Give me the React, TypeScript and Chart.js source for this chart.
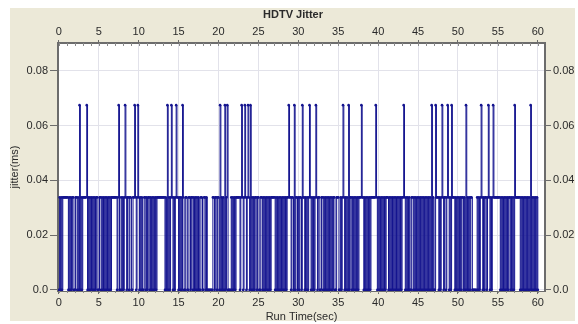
import { useEffect, useRef } from "react";
import { Chart, registerables } from "chart.js";

Chart.register(...registerables);

const chartTitle = "HDTV Jitter";
const xAxisTitle = "Run Time(sec)";
const yAxisTitle = "jitter(ms)";

const sampleStep = 0.1; // seconds between samples
const xMin = -0.1;
const xMax = 60.9;
const xTickStep = 5;
const yMin = -0.0004;
const yMax = 0.0902;
const yTickStep = 0.02;

// jitter levels (ms) addressed by the pattern codes
const jitterLevels = [0, 0.0338];
const spikeLevel = 0.0675;

// one string per second, 10 samples each (code 0 -> 0 ms, 1 -> 0.0338 ms)
const jitterPattern = [
  "0101011111", "1101010110", "0110101010", "1111110101", "0101010110",
  "0110101010", "1010101111", "1110110010", "1010101101", "1001101010",
  "1010100110", "1011010101", "0101111111", "1110101010", "1010101111",
  "0101011001", "1001101101", "0101010011", "0011010000", "0001101101",
  "1010101010", "1100001010", "1011111010", "1010101010", "1010101101",
  "1001101010", "1010101111", "1010101010", "1010101101", "1011010110",
  "1011001101", "0101010101", "0101011001", "1010101010", "1010110011",
  "1001010101", "0101011010", "1010101111", "1101010101", "0111111010",
  "1010101010", "1110101010", "1010101010", "1101010101", "0011010101",
  "0101010101", "0101010101", "0011110101", "0101101010", "1011110101",
  "0101011010", "1010101100", "0000101010", "1010110101", "0101011111",
  "1110101010", "1010110101", "0111111101", "0101010101", "0101010101",
  "0",
];

// times (sec) where jitter jumps to the 0.0675 ms level
const spikeTimes = [
  2.6, 3.5, 7.5, 8.3, 9.5, 9.9, 13.6, 14.1, 14.7, 15.5,
  20.2, 20.8, 21.1, 22.9, 23.3, 23.7, 24.0, 28.8, 29.5, 30.5,
  31.4, 32.2, 35.6, 36.3, 37.9, 39.7, 43.2, 46.7, 47.2, 48.0,
  48.7, 49.2, 51.0, 52.9, 53.8, 54.4, 57.1, 59.1,
];

const FONT = "'Liberation Sans', Arial, sans-serif";
const TEXT = "#2a2a2a";
const LINE = "#14148f";
const GRID = "#e2e2ea";
const AXIS = "#6c6c6c";

function buildPoints() {
  const codes = jitterPattern.join("");
  const pts = codes.split("").map((c, i) => ({
    x: Math.round(i * sampleStep * 10) / 10,
    y: jitterLevels[Number(c)],
  }));
  spikeTimes.forEach((t) => {
    const i = Math.round(t / sampleStep);
    if (pts[i]) pts[i].y = spikeLevel;
  });
  return pts;
}

const backgroundPlugin = {
  id: "bgPanel",
  beforeDraw(chart: any) {
    const { ctx, chartArea } = chart;
    ctx.save();
    ctx.fillStyle = "#ffffff";
    ctx.fillRect(0, 0, chart.width, chart.height);
    ctx.fillStyle = "#ECE9D8";
    ctx.fillRect(10, 8, 565, 313);
    ctx.fillStyle = "#ffffff";
    ctx.fillRect(chartArea.left, chartArea.top, chartArea.right - chartArea.left, chartArea.bottom - chartArea.top);
    ctx.restore();
  },
};

const minorTickPlugin = {
  id: "minorTicks",
  afterDraw(chart: any) {
    const { ctx, chartArea } = chart;
    const xs = chart.scales.x;
    ctx.save();
    ctx.strokeStyle = "#8a8a8a";
    ctx.lineWidth = 1;
    for (let t = 0; t <= 60; t += 1) {
      const px = Math.round(xs.getPixelForValue(t)) + 0.5;
      ctx.beginPath();
      ctx.moveTo(px, chartArea.top);
      ctx.lineTo(px, chartArea.top + 3);
      ctx.moveTo(px, chartArea.bottom);
      ctx.lineTo(px, chartArea.bottom + 2);
      ctx.stroke();
    }
    ctx.restore();
  },
};

export default function App() {
  const ref = useRef<HTMLCanvasElement | null>(null);

  useEffect(() => {
    if (!ref.current) return;
    const font = { family: FONT, size: 11 };
    const yLabel = (v: any) => (Number(v) === 0 ? "0.0" : Number(v).toFixed(2));
    const chart = new Chart(ref.current, {
      type: "line",
      data: {
        datasets: [
          {
            data: buildPoints(),
            borderColor: LINE,
            borderWidth: 1,
            stepped: true,
            pointRadius: 1.3,
            pointBackgroundColor: LINE,
            pointBorderWidth: 0,
            fill: false,
          },
        ],
      },
      options: {
        animation: false,
        responsive: false,
        layout: { padding: { left: 8, top: 0, right: 0, bottom: 0 } },
        plugins: {
          legend: { display: false },
          tooltip: { enabled: false },
          title: {
            display: true,
            text: chartTitle,
            color: TEXT,
            font: { family: FONT, size: 11, weight: "bold" },
            padding: { top: 8, bottom: 4 },
          },
        },
        scales: {
          x: {
            type: "linear",
            position: "bottom",
            min: xMin,
            max: xMax,
            ticks: { stepSize: xTickStep, includeBounds: false, color: TEXT, font, padding: 2, maxRotation: 0, autoSkip: false },
            grid: { color: GRID, tickLength: 3, tickColor: AXIS },
            border: { color: AXIS, width: 1 },
            title: { display: true, text: xAxisTitle, color: TEXT, font, padding: { top: 0, bottom: 0 } },
            afterFit: (s: any) => { s.height = 33; },
          },
          x2: {
            type: "linear",
            position: "top",
            min: xMin,
            max: xMax,
            ticks: { stepSize: xTickStep, includeBounds: false, color: TEXT, font, padding: 1, maxRotation: 0, autoSkip: false },
            grid: { drawOnChartArea: false, tickLength: 3, tickColor: AXIS },
            border: { color: AXIS, width: 2 },
            afterFit: (s: any) => { s.height = 17.8; },
          },
          y: {
            type: "linear",
            position: "left",
            min: yMin,
            max: yMax,
            ticks: { stepSize: yTickStep, includeBounds: false, color: TEXT, font, padding: 2, callback: yLabel },
            grid: { color: GRID, tickLength: 8, tickColor: AXIS },
            border: { color: AXIS, width: 2 },
            title: { display: true, text: yAxisTitle, color: TEXT, font, padding: { top: 0, bottom: 0 } },
            afterFit: (s: any) => { s.width = 50; },
          },
          y2: {
            type: "linear",
            position: "right",
            min: yMin,
            max: yMax,
            ticks: { stepSize: yTickStep, includeBounds: false, color: TEXT, font, padding: 2, callback: yLabel },
            grid: { drawOnChartArea: false, tickLength: 6, tickColor: AXIS },
            border: { color: AXIS, width: 2 },
            afterFit: (s: any) => { s.width = 33; },
          },
        },
      },
      plugins: [backgroundPlugin, minorTickPlugin],
    } as any);
    return () => chart.destroy();
  }, []);

  return (
    <div style={{ position: "fixed", left: 0, top: 0, width: 578, height: 324 }}>
      <canvas ref={ref} width={578} height={324} style={{ display: "block" }} />
    </div>
  );
}
